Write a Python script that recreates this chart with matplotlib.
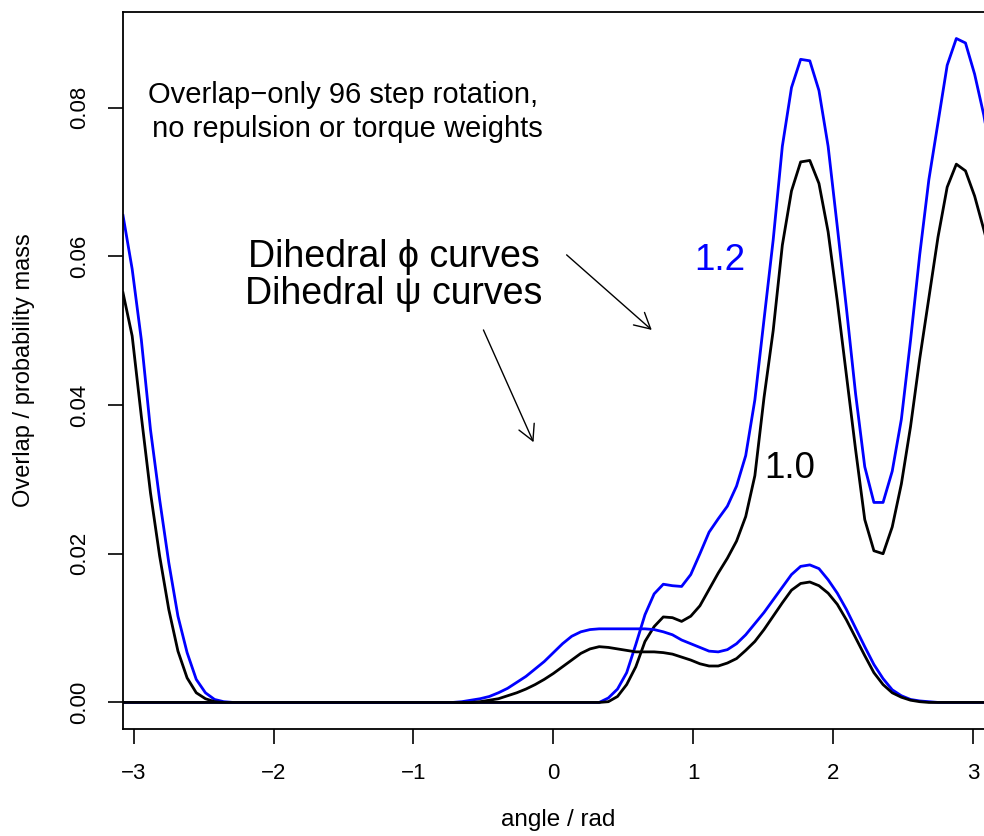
import numpy as np
import matplotlib
matplotlib.use("Agg")
import matplotlib.pyplot as plt

plt.rcParams['font.family'] = ['Liberation Sans', 'DejaVu Sans']

# 96 step rotation: angles -pi+step ... pi
n_steps = 96
angle = -np.pi + np.arange(1, n_steps + 1) * 2 * np.pi / n_steps

# dihedral phi, scale 1.2 (blue) and 1.0 (black)
phi_12 = [0.0655, 0.0583, 0.0488, 0.0367, 0.0273, 0.0188, 0.0116, 0.0067, 0.0031, 0.0013,
          0.0004, 0.0001] + [0.0] * 41 + [
          0.0006, 0.0018, 0.0040, 0.0078, 0.0118, 0.0146, 0.0159, 0.0157, 0.0156, 0.0172,
          0.0200, 0.0229, 0.0247, 0.0264, 0.0291, 0.0332, 0.0407, 0.0515, 0.0622, 0.0748,
          0.0827, 0.0865, 0.0863, 0.0823, 0.0748, 0.0640, 0.0530, 0.0415, 0.0317, 0.0269,
          0.0269, 0.0311, 0.0381, 0.0487, 0.0602, 0.0703, 0.0780, 0.0857, 0.0893, 0.0887,
          0.0845, 0.0790, 0.0720]
phi_10 = [0.0551, 0.0493, 0.0385, 0.0282, 0.0197, 0.0125, 0.0069, 0.0033, 0.0013, 0.0005,
          0.0001] + [0.0] * 42 + [
          0.0001, 0.0008, 0.0024, 0.0048, 0.0082, 0.0102, 0.0115, 0.0114, 0.0109, 0.0116,
          0.0130, 0.0152, 0.0174, 0.0194, 0.0217, 0.0250, 0.0305, 0.0410, 0.0500, 0.0615,
          0.0688, 0.0727, 0.0729, 0.0698, 0.0633, 0.0540, 0.0440, 0.0340, 0.0246, 0.0204,
          0.0200, 0.0236, 0.0294, 0.0371, 0.0462, 0.0544, 0.0626, 0.0693, 0.0724, 0.0715,
          0.0681, 0.0636, 0.0590]

# dihedral psi, scale 1.2 (blue) and 1.0 (black)
psi_12 = [0.0] * 37 + [
          0.0001, 0.0003, 0.0005, 0.0008, 0.0013, 0.0019, 0.0027, 0.0035, 0.0045, 0.0055,
          0.0067, 0.0079, 0.0089, 0.0095, 0.0098, 0.0099, 0.0099, 0.0099, 0.0099, 0.0099,
          0.0099, 0.0098, 0.0095, 0.0091, 0.0084, 0.0079, 0.0074, 0.0069, 0.0068, 0.0071,
          0.0079, 0.0091, 0.0106, 0.0121, 0.0138, 0.0155, 0.0172, 0.0183, 0.0185, 0.0180,
          0.0165, 0.0147, 0.0125, 0.0100, 0.0075, 0.0051, 0.0032, 0.0017, 0.0009, 0.0004,
          0.0002, 0.0001] + [0.0] * 7
psi_10 = [0.0] * 39 + [
          0.0001, 0.0003, 0.0005, 0.0009, 0.0013, 0.0018, 0.0024, 0.0031, 0.0039, 0.0048,
          0.0057, 0.0066, 0.0072, 0.0075, 0.0074, 0.0072, 0.0070, 0.0068, 0.0068, 0.0068,
          0.0067, 0.0065, 0.0061, 0.0057, 0.0052, 0.0049, 0.0049, 0.0053, 0.0059, 0.0070,
          0.0082, 0.0098, 0.0116, 0.0134, 0.0151, 0.0160, 0.0162, 0.0157, 0.0147, 0.0132,
          0.0111, 0.0087, 0.0063, 0.0040, 0.0024, 0.0013, 0.0007, 0.0003, 0.0001] + [0.0] * 8

xticks = [-3, -2, -1, 0, 1, 2, 3]
yticks = [0.00, 0.02, 0.04, 0.06, 0.08]

fig = plt.figure(figsize=(9.84, 8.36), dpi=100)
ax = fig.add_axes([0.125, 0.128, 0.8841, 0.8577])

ax.plot(angle, phi_12, color="#0000FF", lw=2.0)
ax.plot(angle, phi_10, color="black", lw=2.0)
ax.plot(angle, psi_12, color="#0000FF", lw=2.0)
ax.plot(angle, psi_10, color="black", lw=2.0)

ymax = max(phi_12)
ax.set_xlim(angle[0], angle[-1])
ax.set_ylim(-0.04 * ymax, 1.04 * ymax)

ax.set_xticks(xticks)
ax.set_yticks(yticks)
ax.set_yticklabels(["%.2f" % v for v in yticks], rotation=90, va="center")
ax.tick_params(direction="out", length=10.5, width=1.2, labelsize=16, colors="black")
ax.tick_params(axis="x", pad=14)
ax.tick_params(axis="y", pad=13)
for s in ax.spines.values():
    s.set_linewidth(1.3)

ax.set_xlabel("angle / rad", fontsize=17.5, labelpad=18)
ax.set_ylabel("Overlap / probability mass", fontsize=17, labelpad=25)

ax.text(-1.50, 0.0794, "Overlap\u2212only 96 step rotation,\n no repulsion or torque weights",
        ha="center", va="center", fontsize=21, linespacing=1.28)
ax.text(-1.14, 0.0574, "Dihedral \u03d5 curves\nDihedral \u03c8 curves",
        ha="center", va="center", fontsize=27, linespacing=1.05)
ax.text(1.19, 0.0595, "1.2", color="#0000FF", ha="center", va="center", fontsize=26.5)
ax.text(1.69, 0.0315, "1.0", color="black", ha="center", va="center", fontsize=26.5)

arrow = dict(arrowstyle="->,head_length=1.12,head_width=0.6", lw=1.0,
             color="black", shrinkA=0, shrinkB=0, mutation_scale=10)
ax.annotate("", xy=(0.703, 0.0501), xytext=(0.0945, 0.0602), arrowprops=arrow)
ax.annotate("", xy=(-0.142, 0.0350), xytext=(-0.500, 0.0501), arrowprops=arrow)

fig.savefig("out.png", dpi=100)
